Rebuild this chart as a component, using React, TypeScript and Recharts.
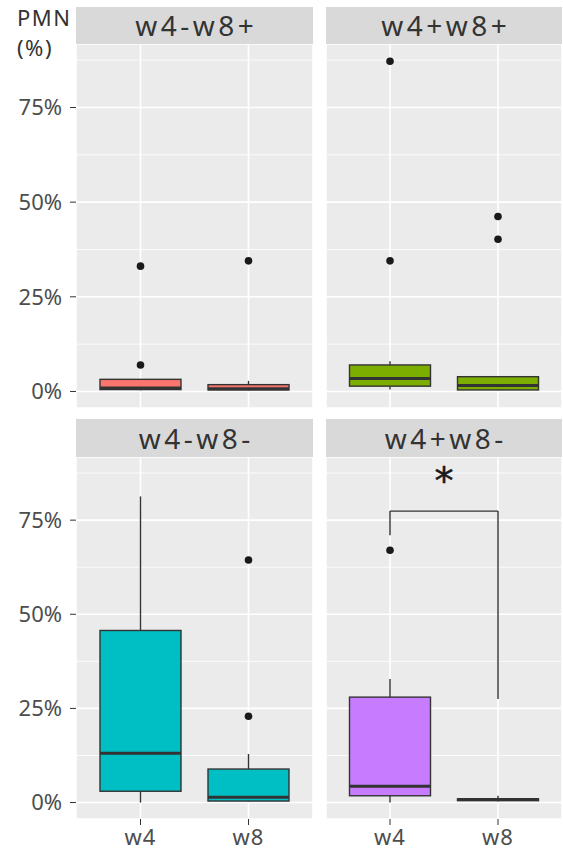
import {
    Bar,
    CartesianGrid,
    ComposedChart,
    ReferenceLine,
    Scatter,
    XAxis,
    YAxis
} from 'recharts';

const categories = ['w4', 'w8'];
const panelTitles = ['w4-w8+', 'w4+w8+', 'w4-w8-', 'w4+w8-'];
const panelColors = ['#F8766D', '#7CAE00', '#00BFC4', '#C77CFF'];

// [lower whisker, q1, median, q3, upper whisker] per panel
const statsW4 = [
    [0.003, 0.005, 0.009, 0.032, 0.032],
    [0.005, 0.014, 0.034, 0.07, 0.08],
    [0.0, 0.03, 0.131, 0.457, 0.813],
    [0.0, 0.018, 0.043, 0.28, 0.328]
];
const statsW8 = [
    [0.003, 0.004, 0.007, 0.018, 0.028],
    [0.003, 0.004, 0.016, 0.039, 0.039],
    [0.003, 0.004, 0.014, 0.089, 0.129],
    [0.003, 0.005, 0.008, 0.01, 0.018]
];
const outliersW4 = [[0.331, 0.07], [0.872, 0.345], [], [0.67]];
const outliersW8 = [[0.345], [0.462, 0.402], [0.644, 0.229], []];

const yTicks = [0, 0.25, 0.5, 0.75];
const yMinor = [0.125, 0.375, 0.625, 0.875];
const yDomain = [-0.0437, 0.9177];

// significance bracket, panel w4+w8-
const bracketW4 = [0.71, 0.774];
const bracketW8 = [0.275, 0.774];
const sigLabel = '*';

const FONT = '"Noto Sans", sans-serif';
const INK = '#333333';

function BoxShape(props: any) {
    const { x, y, width, height, payload, fill } = props;
    const { lo, q1, med, q3, hi } = payload;
    const py = (v: number) => y + (height * (hi - v)) / (hi - lo);
    const cx = x + width / 2;
    return (
        <g>
            <line x1={cx} x2={cx} y1={py(hi)} y2={py(q3)} stroke={INK} strokeWidth={1.4} />
            <line x1={cx} x2={cx} y1={py(q1)} y2={py(lo)} stroke={INK} strokeWidth={1.4} />
            <rect
                x={x}
                y={py(q3)}
                width={width}
                height={Math.max(py(q1) - py(q3), 1)}
                fill={fill}
                stroke={INK}
                strokeWidth={1.4}
            />
            <line x1={x} x2={x + width} y1={py(med)} y2={py(med)} stroke={INK} strokeWidth={3} />
        </g>
    );
}

function Panel({ idx, left, top, width, height, showY, showX }: any) {
    const rows = categories.map((cat, j) => {
        const s = j === 0 ? statsW4[idx] : statsW8[idx];
        return { cat, lo: s[0], q1: s[1], med: s[2], q3: s[3], hi: s[4], range: [s[0], s[4]] };
    });
    const outs = [
        ...outliersW4[idx].map((v) => ({ cat: 'w4', v })),
        ...outliersW8[idx].map((v) => ({ cat: 'w8', v }))
    ];
    const pad = showY ? 10.5 : 10;
    return (
        <div style={{ position: 'absolute', left, top }}>
            <ComposedChart
                width={width}
                height={height}
                data={rows}
                margin={{ top: 0, right: 0, bottom: 0, left: 0 }}
                barCategoryGap="12.5%"
                style={{ fontFamily: FONT }}
            >
                <CartesianGrid
                    fill="#EBEBEB"
                    stroke="#FFFFFF"
                    strokeWidth={0.8}
                    vertical={false}
                    horizontalValues={yMinor}
                />
                <CartesianGrid stroke="#FFFFFF" strokeWidth={1.6} />
                <XAxis
                    dataKey="cat"
                    type="category"
                    allowDuplicatedCategory={false}
                    hide={!showX}
                    height={showX ? 33 : 0}
                    padding={{ left: pad, right: pad }}
                    axisLine={false}
                    tickLine={{ stroke: INK }}
                    tickSize={6}
                    tickMargin={4}
                    tick={{ fill: '#4D4D4D', fontSize: 22, letterSpacing: 1 }}
                />
                <YAxis
                    type="number"
                    domain={yDomain}
                    ticks={yTicks}
                    hide={!showY}
                    width={showY ? 76 : 0}
                    axisLine={false}
                    tickLine={{ stroke: INK }}
                    tickSize={6}
                    tickMargin={8}
                    tick={{ fill: '#4D4D4D', fontSize: 22 }}
                    tickFormatter={(v) => `${Math.round(v * 100)}%`}
                />
                <Bar
                    dataKey="range"
                    fill={panelColors[idx]}
                    shape={BoxShape}
                    isAnimationActive={false}
                />
                <Scatter
                    data={outs}
                    dataKey="v"
                    isAnimationActive={false}
                    shape={(p: any) => <circle cx={p.cx} cy={p.cy} r={3.8} fill="#1A1A1A" />}
                />
                {idx === 3 && (
                    <ReferenceLine
                        segment={[{ x: 'w4', y: bracketW4[0] }, { x: 'w4', y: bracketW4[1] }]}
                        stroke={INK}
                        strokeWidth={1.4}
                    />
                )}
                {idx === 3 && (
                    <ReferenceLine
                        segment={[{ x: 'w4', y: bracketW4[1] }, { x: 'w8', y: bracketW8[1] }]}
                        stroke={INK}
                        strokeWidth={1.4}
                        label={{
                            value: sigLabel,
                            position: 'top',
                            fill: '#1A1A1A',
                            stroke: '#1A1A1A',
                            strokeWidth: 0.5,
                            fontSize: 38,
                            fontFamily: '"DejaVu Sans", sans-serif',
                            offset: 17
                        }}
                    />
                )}
                {idx === 3 && (
                    <ReferenceLine
                        segment={[{ x: 'w8', y: bracketW8[1] }, { x: 'w8', y: bracketW8[0] }]}
                        stroke={INK}
                        strokeWidth={1.4}
                    />
                )}
            </ComposedChart>
        </div>
    );
}

function Strip({ title, left, top, width, height }: any) {
    return (
        <div
            style={{
                position: 'absolute',
                left,
                top,
                width,
                height,
                background: '#D9D9D9',
                color: INK,
                fontSize: 28,
                letterSpacing: 3.5,
                textIndent: 3.5,
                lineHeight: `${height}px`,
                textAlign: 'center'
            }}
        >
            {title}
        </div>
    );
}

export default function App() {
    return (
        <div
            style={{
                position: 'absolute',
                left: 0,
                top: 0,
                width: 563,
                height: 852,
                background: '#FFFFFF',
                fontFamily: FONT,
                overflow: 'hidden'
            }}
        >
            <div
                style={{
                    position: 'absolute',
                    left: 17,
                    top: 2,
                    fontSize: 22,
                    lineHeight: '30px',
                    letterSpacing: 1.5,
                    color: INK
                }}
            >
                PMN
                <br />
                (%)
            </div>
            <Strip title={panelTitles[0]} left={76} top={7} width={237} height={37} />
            <Strip title={panelTitles[1]} left={326} top={7} width={236} height={37} />
            <Strip title={panelTitles[2]} left={76} top={419} width={237} height={38} />
            <Strip title={panelTitles[3]} left={326} top={419} width={236} height={38} />
            <Panel idx={0} left={0} top={44} width={313} height={364} showY showX={false} />
            <Panel idx={1} left={326} top={44} width={236} height={364} showY={false} showX={false} />
            <Panel idx={2} left={0} top={457} width={313} height={395} showY showX />
            <Panel idx={3} left={326} top={457} width={236} height={395} showY={false} showX />
        </div>
    );
}
